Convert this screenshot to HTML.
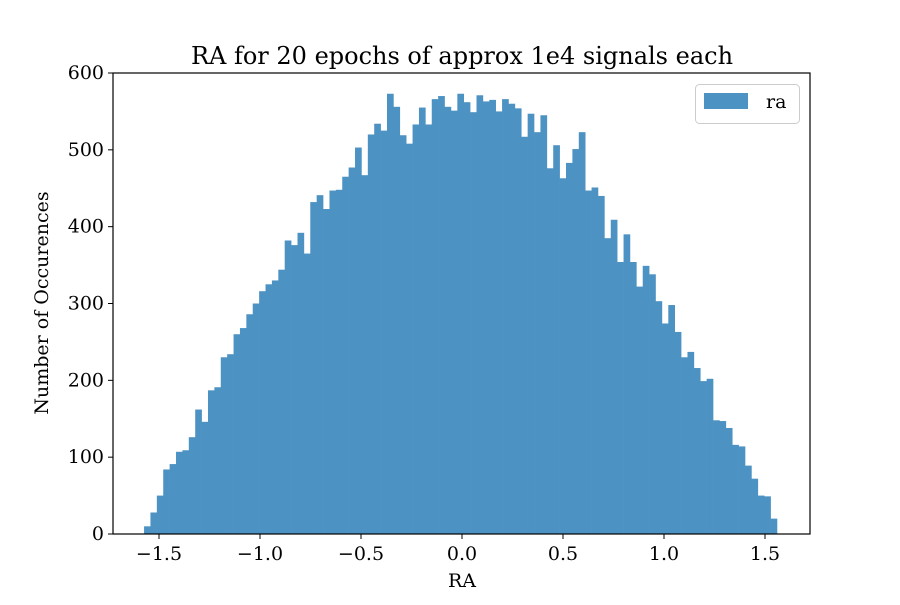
<!DOCTYPE html>
<html><head><meta charset="utf-8"><style>
body{margin:0;background:#fff}
svg text{font-family:"DejaVu Serif","Liberation Serif",serif;fill:#000}
</style></head><body>
<svg id="chart" width="900" height="600">
<rect width="900" height="600" fill="#fff"/>
<text x="462" y="64" font-size="24" text-anchor="middle">RA for 20 epochs of approx 1e4 signals each</text>
<g id="bars"></g>
<g id="axes"></g>
<rect x="113" y="73" width="697" height="461" fill="none" stroke="#000" stroke-width="1.2"/>
<g>
<rect x="695.5" y="84.5" width="104" height="39" rx="4" fill="#fff" fill-opacity="0.8" stroke="#ccc"/>
<rect x="704" y="93" width="44" height="16" fill="rgb(76,146,195)"/>
<text x="766" y="108" font-size="19">ra</text>
</g>
<text x="462" y="587" font-size="19" text-anchor="middle">RA</text>
<text transform="translate(48,303) rotate(-90)" font-size="19" text-anchor="middle">Number of Occurences</text>
</svg>
<script>
const binStart = -1.574;
const binWidth = 0.03165;
const counts = [10,28,50,84,91,107,109,126,162,146,187,191,230,234,260,268,286,300,316,325,330,344,382,376,392,365,432,441,423,447,448,465,477,503,467,520,534,525,573,556,519,508,533,555,533,566,570,556,551,573,562,549,571,563,565,550,566,560,554,517,547,523,545,476,506,463,483,501,523,447,451,440,385,409,354,390,354,322,349,338,303,274,298,263,230,237,216,199,202,148,147,138,116,114,89,72,50,49,20];
const xTicks = [-1.5,-1.0,-0.5,0.0,0.5,1.0,1.5];
const xTickLabels = ["\u22121.5","\u22121.0","\u22120.5","0.0","0.5","1.0","1.5"];
const yTicks = [0,100,200,300,400,500,600];
const yTickLabels = ["0","100","200","300","400","500","600"];

const NS = "http://www.w3.org/2000/svg";
function xs(v){return 462 + v*202;}
function ys(v){return 534 - v*(461/600);}
const bars = document.getElementById('bars');
counts.forEach((c,i)=>{
  const x0 = xs(binStart + i*binWidth), x1 = xs(binStart + (i+1)*binWidth);
  const r = document.createElementNS(NS,'rect');
  r.setAttribute('x', x0); r.setAttribute('width', x1-x0+0.3);
  r.setAttribute('y', ys(c)); r.setAttribute('height', ys(0)-ys(c));
  r.setAttribute('fill','rgb(76,146,195)');
  
  
  bars.appendChild(r);
});
const axes = document.getElementById('axes');
xTicks.forEach((t,i)=>{
  const l = document.createElementNS(NS,'line');
  l.setAttribute('x1',xs(t)); l.setAttribute('x2',xs(t));
  l.setAttribute('y1',534); l.setAttribute('y2',539);
  l.setAttribute('stroke','#000');
  
  
  axes.appendChild(l);
  const tx = document.createElementNS(NS,'text');
  tx.setAttribute('x',xs(t)); tx.setAttribute('y',560);
  tx.setAttribute('font-size','19'); tx.setAttribute('text-anchor','middle');
  tx.textContent = xTickLabels[i];
  
  
  axes.appendChild(tx);
});
yTicks.forEach((t,i)=>{
  const l = document.createElementNS(NS,'line');
  l.setAttribute('x1',108); l.setAttribute('x2',113);
  l.setAttribute('y1',ys(t)); l.setAttribute('y2',ys(t));
  l.setAttribute('stroke','#000');
  
  
  axes.appendChild(l);
  const tx = document.createElementNS(NS,'text');
  tx.setAttribute('x',104); tx.setAttribute('y',ys(t)+6);
  tx.setAttribute('font-size','19'); tx.setAttribute('text-anchor','end');
  tx.textContent = yTickLabels[i];
  
  
  axes.appendChild(tx);
});
</script>
</body></html>
